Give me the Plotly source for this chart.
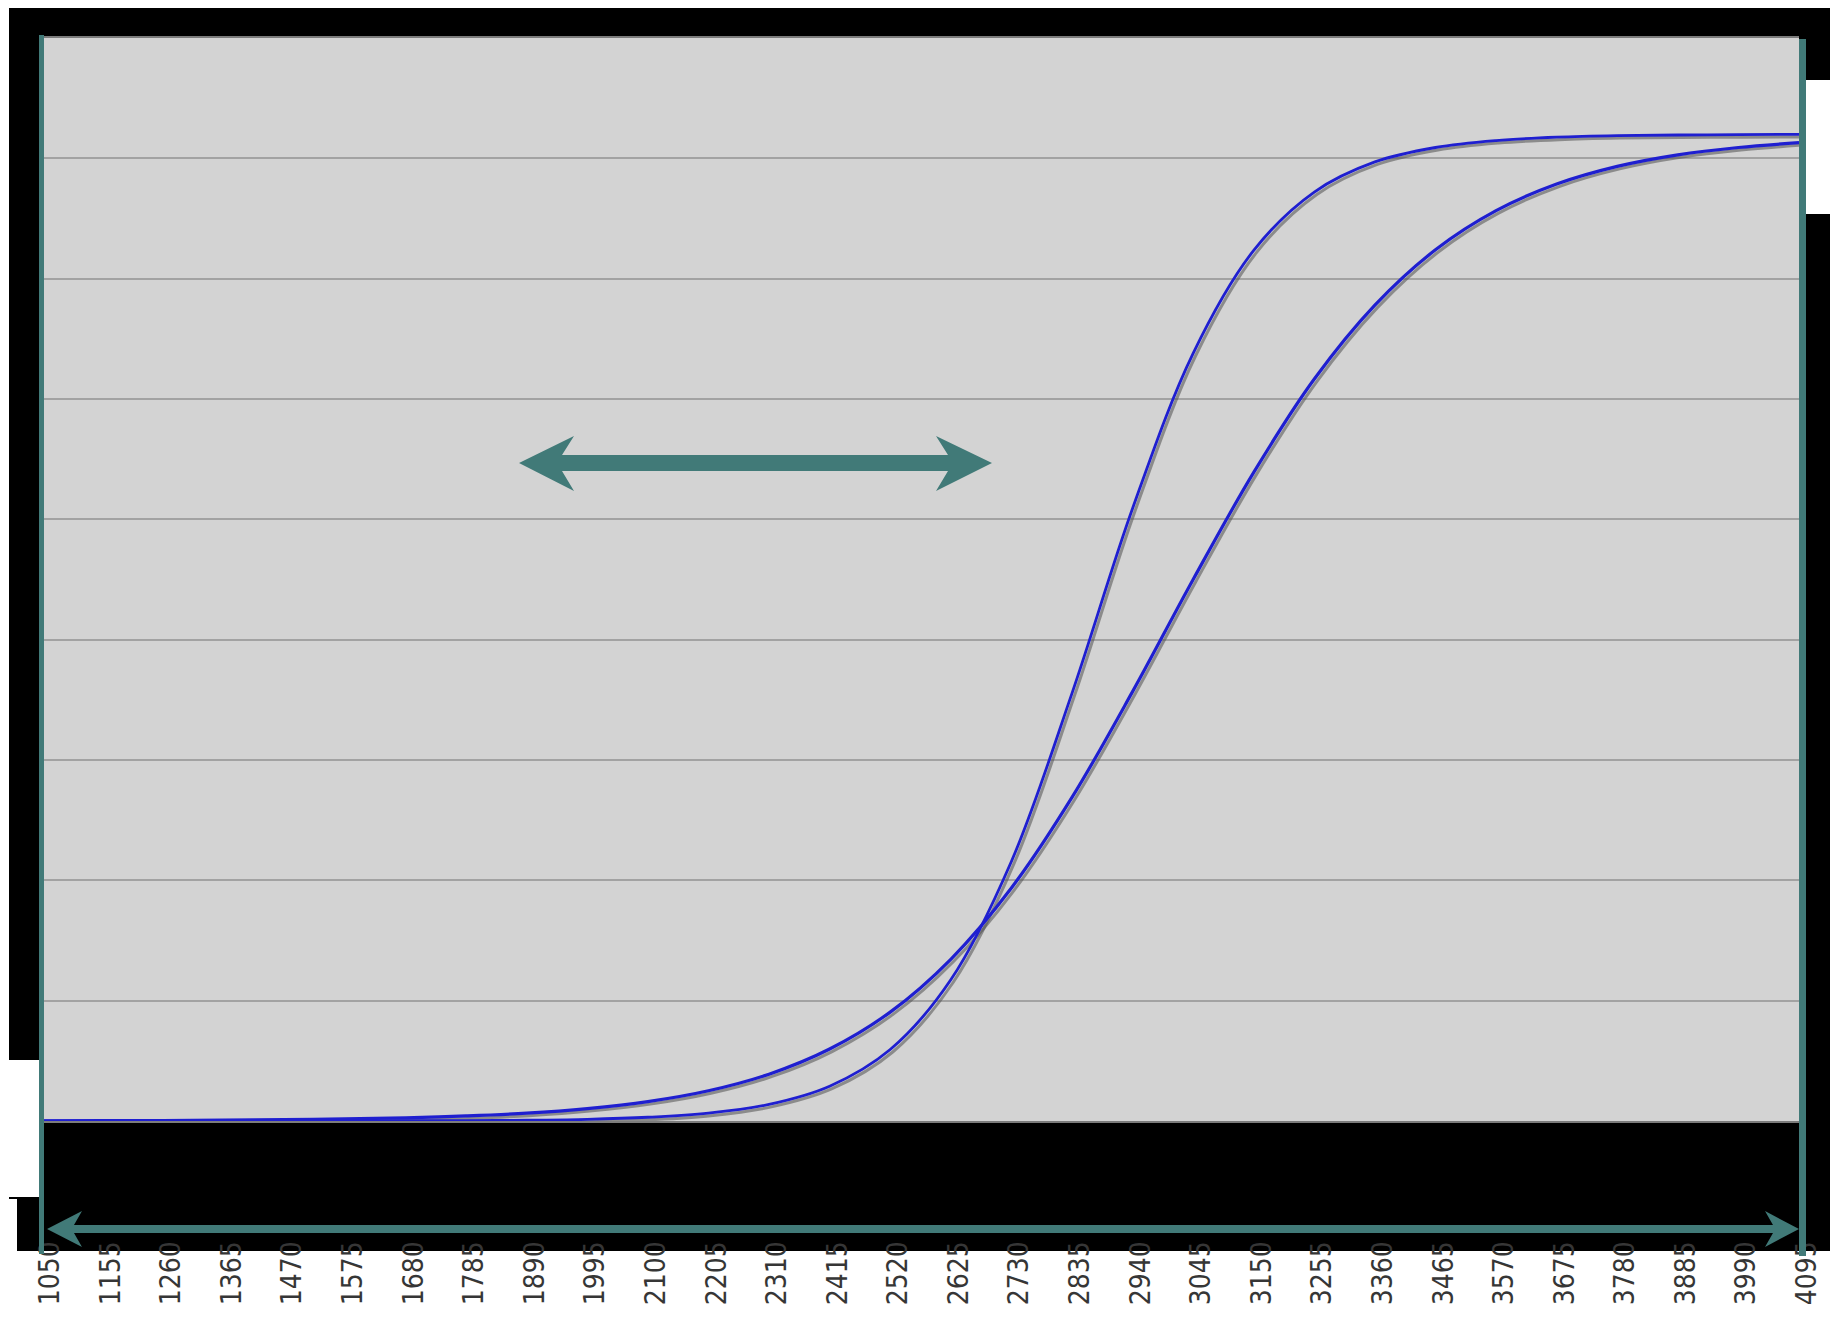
import plotly.graph_objects as go

# ---------------- data ----------------
x_ticks = [1050, 1155, 1260, 1365, 1470, 1575, 1680, 1785, 1890, 1995, 2100, 2205, 2310, 2415,
           2520, 2625, 2730, 2835, 2940, 3045, 3150, 3255, 3360, 3465, 3570, 3675, 3780, 3885,
           3990, 4095]
x_tick_text = ["1050", "1155", "1260", "1365", "1470", "1575", "1680", "1785", "1890", "1995",
               "2100", "2205", "2310", "2415", "2520", "2625", "2730", "2835", "2940", "3045",
               "3150", "3255", "3360", "3465", "3570", "3675", "3780", "3885", "3990", "4095"]

# curve values read at each category (x_ticks)
steep_curve = [0.000, 0.000, 0.000, 0.000, 0.000, 0.0001, 0.0002, 0.0003, 0.0007, 0.0014,
               0.0031, 0.0065, 0.0138, 0.0289, 0.0594, 0.1174, 0.2157, 0.3554, 0.509, 0.638,
               0.7235, 0.772, 0.797, 0.809, 0.8148, 0.8176, 0.8189, 0.8194, 0.8197, 0.8199]
shallow_curve = [0.0002, 0.0003, 0.0004, 0.0007, 0.0011, 0.0017, 0.0026, 0.0042, 0.0065, 0.0103,
                 0.0161, 0.0251, 0.0389, 0.0598, 0.0905, 0.1344, 0.1936, 0.2689, 0.3568, 0.450,
                 0.539, 0.6166, 0.678, 0.724, 0.7565, 0.7786, 0.7933, 0.8029, 0.809, 0.813]

# ---------------- layout geometry ----------------
W_FIG, H_FIG = 1827, 1301
ML, MT = 34, 30
PW, PH = 1757, 1083
MR = W_FIG - ML - PW
MB = H_FIG - MT - PH
OFF = 8  # body margin of the page

XR = [1050, 4095]
YR = [0, 0.9]
ux = (XR[1] - XR[0]) / PW
uy = (YR[1] - YR[0]) / PH
SH = 2.5  # shadow offset in px

TEAL = "rgb(65,122,120)"
BLUE = "#1f1fd0"
SHADOW = "rgba(80,80,80,0.55)"


def px(X):
    return (X - OFF - ML) / PW


def py(Y):
    return 1 - (Y - OFF - MT) / PH


def poly(points):
    return "M " + " L ".join(f"{px(a):.5f},{py(b):.5f}" for a, b in points) + " Z"


fig = go.Figure()

line_kw = dict(shape="spline", smoothing=1.0)
# shadows on main axes (shifted range)
fig.add_trace(go.Scatter(x=x_ticks, y=shallow_curve, mode="lines",
                         line=dict(color=SHADOW, width=3, **line_kw), hoverinfo="skip", showlegend=False))
fig.add_trace(go.Scatter(x=x_ticks, y=steep_curve, mode="lines",
                         line=dict(color=SHADOW, width=3, **line_kw), hoverinfo="skip", showlegend=False))
# blue curves on overlay axes (true range)
fig.add_trace(go.Scatter(x=x_ticks, y=shallow_curve, mode="lines", xaxis="x2", yaxis="y2",
                         line=dict(color=BLUE, width=3.2, **line_kw), showlegend=False))
fig.add_trace(go.Scatter(x=x_ticks, y=steep_curve, mode="lines", xaxis="x2", yaxis="y2",
                         line=dict(color=BLUE, width=2.8, **line_kw), showlegend=False))

shapes = []
# black background
shapes.append(dict(type="rect", xref="paper", yref="paper", layer="below", line_width=0,
                   fillcolor="black", x0=px(9), x1=px(1830), y0=py(0), y1=py(1251)))
# white notches
for (a, b, c, d) in [(1806, 1843, 80, 214), (0, 39, 1060, 1197), (0, 17, 1199, 1252)]:
    shapes.append(dict(type="rect", xref="paper", yref="paper", layer="below", line_width=0,
                       fillcolor="white", x0=px(a), x1=px(b), y0=py(d), y1=py(c)))
# gray plot area
shapes.append(dict(type="rect", xref="paper", yref="paper", layer="below", line_width=0,
                   fillcolor="#d3d3d3", x0=0, x1=1, y0=0, y1=1))
# teal vertical bars
shapes.append(dict(type="rect", xref="paper", yref="paper", layer="above", line_width=0,
                   fillcolor=TEAL, x0=px(39), x1=px(44), y0=py(1254), y1=py(35)))
shapes.append(dict(type="rect", xref="paper", yref="paper", layer="above", line_width=0,
                   fillcolor=TEAL, x0=px(1799), x1=px(1806), y0=py(1256), y1=py(39)))
# bottom double arrow
shapes.append(dict(type="path", xref="paper", yref="paper", layer="above", line_width=0,
                   fillcolor=TEAL,
                   path=poly([(47, 1229), (82, 1211), (74, 1225), (1773, 1225), (1765, 1211),
                              (1799, 1229), (1765, 1247), (1773, 1233), (74, 1233), (82, 1247)])))
# middle double arrow
shapes.append(dict(type="path", xref="paper", yref="paper", layer="above", line_width=0,
                   fillcolor=TEAL,
                   path=poly([(519, 463), (574, 436), (562, 455), (948, 455), (936, 436),
                              (992, 463), (936, 491), (948, 471), (562, 471), (574, 491)])))

fig.update_layout(
    width=W_FIG, height=H_FIG,
    margin=dict(l=ML, r=MR, t=MT, b=MB, pad=0, autoexpand=False),
    paper_bgcolor="white",
    plot_bgcolor="rgba(0,0,0,0)",
    shapes=shapes,
    showlegend=False,
    xaxis=dict(range=[XR[0] - SH * ux, XR[1] - SH * ux],
               tickvals=[v - SH * ux for v in x_ticks], ticktext=x_tick_text,
               tickangle=-90, ticks="outside", ticklen=107, tickcolor="rgba(0,0,0,0)",
               ticklabelshift=8, automargin=False,
               tickfont=dict(family="DejaVu Sans Condensed, DejaVu Sans", size=28, color="#363636"),
               showgrid=False, zeroline=False, showline=True, linecolor="#7c7c7c", linewidth=2,
               mirror=True),
    yaxis=dict(range=[YR[0] + SH * uy, YR[1] + SH * uy], tick0=SH * uy, dtick=0.1,
               showticklabels=False, ticks="", showgrid=True, gridcolor="#a2a2a2", gridwidth=2,
               zeroline=False, showline=False, automargin=False),
    xaxis2=dict(range=XR, overlaying="x", visible=False, automargin=False),
    yaxis2=dict(range=YR, overlaying="y", visible=False, automargin=False),
)

fig.write_html("out.html")
